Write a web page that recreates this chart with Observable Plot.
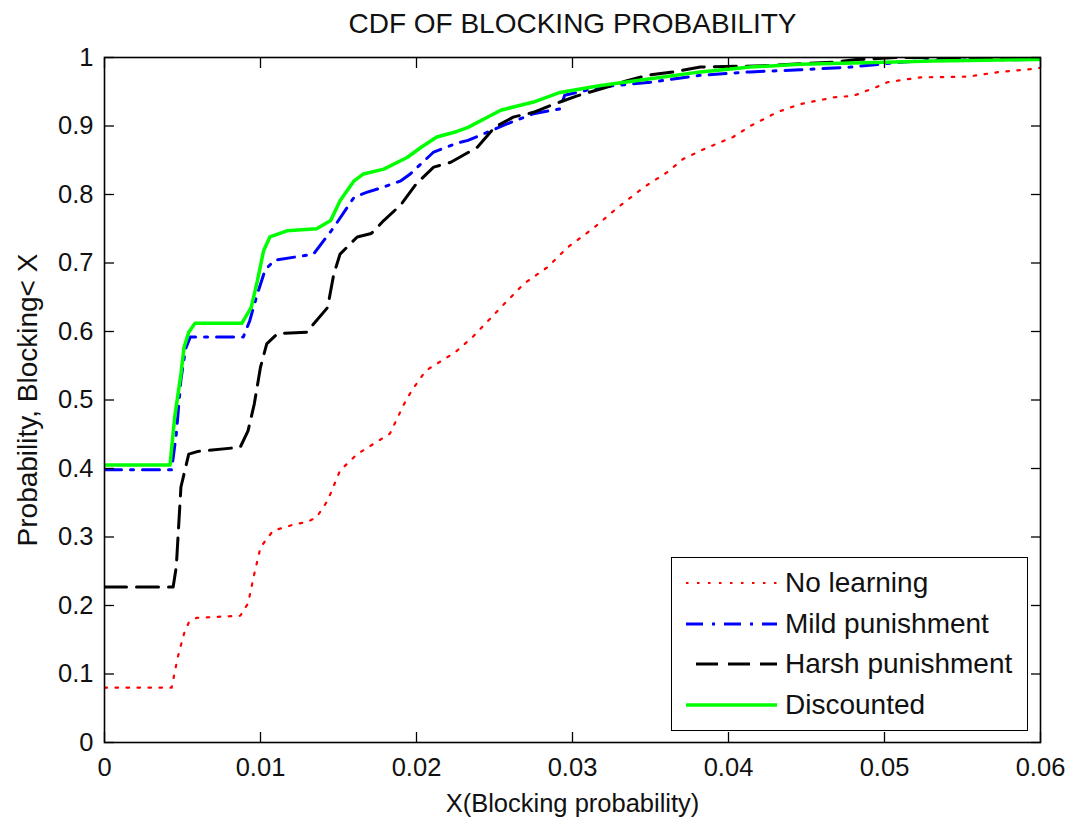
<!DOCTYPE html>
<html>
<head>
<meta charset="utf-8">
<script src="https://cdn.jsdelivr.net/npm/d3@7"></script>
<script src="https://cdn.jsdelivr.net/npm/@observablehq/plot@0.6"></script>
<style>
  html, body { margin: 0; padding: 0; background: #fff; }
  #wrap { position: relative; width: 1069px; height: 820px; font-family: "Liberation Sans", Arial, sans-serif; color: #111; }
  #legend {
    position: absolute; left: 671px; top: 557px; width: 355px; height: 172px;
    background: #fff; border: 1.5px solid #000;
  }
  .row { position: absolute; left: 0; height: 40px; display: flex; align-items: center; }
  .row svg { margin-left: 14px; }
  .row span { margin-left: 8px; font-size: 28px; line-height: 1; }
</style>
</head>
<body>
<div id="wrap"></div>
<script>
// CDF curves of blocking probability, [X, P(Blocking < X)]
const noLearning = [
  [0, 0.080], [0.0043, 0.080], [0.0047, 0.125], [0.0051, 0.159], [0.0054, 0.175], [0.0059, 0.182],
  [0.0087, 0.185], [0.0092, 0.203], [0.0096, 0.246], [0.0100, 0.285], [0.0108, 0.309], [0.0121, 0.318],
  [0.0130, 0.322], [0.0136, 0.329], [0.0143, 0.353], [0.0151, 0.397], [0.0162, 0.421], [0.0176, 0.441],
  [0.0183, 0.451], [0.0192, 0.494], [0.0197, 0.514], [0.0206, 0.543], [0.0218, 0.560], [0.0225, 0.570],
  [0.0236, 0.592], [0.0254, 0.635], [0.0269, 0.670], [0.0284, 0.694], [0.0297, 0.723], [0.0314, 0.752],
  [0.0329, 0.781], [0.0346, 0.811], [0.0361, 0.833], [0.0371, 0.852], [0.0386, 0.868], [0.0403, 0.884],
  [0.0414, 0.900], [0.0431, 0.920], [0.0446, 0.932], [0.0468, 0.942], [0.0480, 0.944], [0.0495, 0.957],
  [0.0502, 0.964], [0.0523, 0.971], [0.0553, 0.972], [0.0574, 0.979], [0.0594, 0.983], [0.0600, 0.985]
];
const mildPunishment = [
  [0, 0.398], [0.0043, 0.398], [0.0046, 0.450], [0.0049, 0.530], [0.0052, 0.575], [0.0055, 0.592],
  [0.0089, 0.592], [0.0093, 0.615], [0.0098, 0.655], [0.0103, 0.690], [0.0109, 0.704], [0.0134, 0.713],
  [0.0147, 0.752], [0.0160, 0.796], [0.0168, 0.803], [0.0179, 0.811], [0.0190, 0.820], [0.0196, 0.830],
  [0.0211, 0.862], [0.0226, 0.875], [0.0233, 0.879], [0.0258, 0.903], [0.0275, 0.918], [0.0292, 0.925],
  [0.0295, 0.945], [0.0318, 0.957], [0.0350, 0.964], [0.0382, 0.974], [0.0414, 0.979], [0.0446, 0.982],
  [0.0478, 0.986], [0.0510, 0.993], [0.0531, 0.996], [0.0600, 0.997]
];
const harshPunishment = [
  [0, 0.227], [0.0044, 0.227], [0.0046, 0.256], [0.0049, 0.373], [0.0054, 0.421], [0.0060, 0.425],
  [0.0087, 0.431], [0.0092, 0.455], [0.0096, 0.494], [0.0100, 0.548], [0.0104, 0.582], [0.0111, 0.597],
  [0.0130, 0.599], [0.0134, 0.611], [0.0143, 0.635], [0.0147, 0.684], [0.0151, 0.713], [0.0162, 0.738],
  [0.0171, 0.743], [0.0179, 0.762], [0.0190, 0.785], [0.0200, 0.816], [0.0211, 0.840], [0.0222, 0.847],
  [0.0239, 0.869], [0.0250, 0.898], [0.0262, 0.913], [0.0275, 0.920], [0.0286, 0.930], [0.0292, 0.935],
  [0.0303, 0.944], [0.0318, 0.954], [0.0335, 0.966], [0.0348, 0.974], [0.0365, 0.979], [0.0382, 0.986],
  [0.0425, 0.988], [0.0446, 0.991], [0.0467, 0.993], [0.0482, 0.997], [0.0507, 1.000], [0.0600, 1.000]
];
const discounted = [
  [0, 0.405], [0.0042, 0.405], [0.0045, 0.475], [0.0049, 0.538], [0.0051, 0.577], [0.0054, 0.599],
  [0.0058, 0.612], [0.0088, 0.612], [0.0094, 0.635], [0.0098, 0.674], [0.0102, 0.718], [0.0106, 0.738],
  [0.0117, 0.747], [0.0136, 0.750], [0.0145, 0.762], [0.0151, 0.791], [0.0160, 0.820], [0.0166, 0.830],
  [0.0179, 0.837], [0.0194, 0.854], [0.0203, 0.869], [0.0213, 0.884], [0.0226, 0.892], [0.0233, 0.898],
  [0.0254, 0.923], [0.0275, 0.935], [0.0292, 0.949], [0.0318, 0.959], [0.0350, 0.969], [0.0382, 0.979],
  [0.0414, 0.986], [0.0446, 0.990], [0.0500, 0.993], [0.0531, 0.995], [0.0600, 0.997]
];

const seriesNames = ["No learning", "Mild punishment", "Harsh punishment", "Discounted"];
const seriesData = [noLearning, mildPunishment, harshPunishment, discounted];
const seriesColors = ["#ff0000", "#0000ff", "#000000", "#00ff00"];
const seriesDash = ["2.5,8.5", "17,9,3,9", "22,10", null];
const seriesWidth = [2.2, 3, 3, 3.5];

const xTicks = [0, 0.01, 0.02, 0.03, 0.04, 0.05, 0.06];
const yTicks = [0, 0.1, 0.2, 0.3, 0.4, 0.5, 0.6, 0.7, 0.8, 0.9, 1];
const titleText = "CDF OF BLOCKING PROBABILITY";
const xLabel = "X(Blocking probability)";
const yLabel = "Probability, Blocking< X";

const lineMarks = seriesData.map((pts, i) =>
  Plot.line(pts, {
    x: d => d[0], y: d => d[1],
    stroke: seriesColors[i], strokeWidth: seriesWidth[i],
    strokeDasharray: seriesDash[i], clip: true
  })
);

const textStyle = { fill: "#111", fontFamily: "Liberation Sans, Arial, sans-serif" };

const chart = Plot.plot({
  width: 1069,
  height: 820,
  marginTop: 57,
  marginRight: 29,
  marginBottom: 78,
  marginLeft: 104,
  x: { domain: [0, 0.06] },
  y: { domain: [0, 1] },
  style: { background: "#fff", overflow: "visible" },
  marks: [
    ...lineMarks,
    // inward ticks on all four sides
    Plot.axisX({ anchor: "bottom", ticks: xTicks, tickSize: -10, text: null, stroke: "#000", strokeWidth: 1.3 }),
    Plot.axisX({ anchor: "top", ticks: xTicks, tickSize: -10, text: null, stroke: "#000", strokeWidth: 1.3 }),
    Plot.axisY({ anchor: "left", ticks: yTicks, tickSize: -10, text: null, stroke: "#000", strokeWidth: 1.3 }),
    Plot.axisY({ anchor: "right", ticks: yTicks, tickSize: -10, text: null, stroke: "#000", strokeWidth: 1.3 }),
    Plot.frame({ stroke: "#000", strokeWidth: 1.6 }),
    // tick labels
    Plot.text(xTicks, { x: d => d, frameAnchor: "bottom", dy: 25, lineAnchor: "middle", text: d => String(d), fontSize: 25.5, ...textStyle }),
    Plot.text(yTicks, { y: d => d, frameAnchor: "left", dx: -11, textAnchor: "end", lineAnchor: "middle", text: d => String(d), fontSize: 25.5, ...textStyle }),
    // titles
    Plot.text([titleText], { frameAnchor: "top", dy: -33, lineAnchor: "middle", fontSize: 28, ...textStyle }),
    Plot.text([xLabel], { frameAnchor: "bottom", dy: 61, lineAnchor: "middle", fontSize: 25.5, ...textStyle }),
    Plot.text([yLabel], { frameAnchor: "left", dx: -76, rotate: -90, textAnchor: "middle", lineAnchor: "middle", fontSize: 28, ...textStyle })
  ]
});

const wrap = document.getElementById("wrap");
wrap.appendChild(chart);

// legend box inside the lower-right corner of the axes
const legend = document.createElement("div");
legend.id = "legend";
seriesNames.forEach((name, i) => {
  const row = document.createElement("div");
  row.className = "row";
  row.style.top = (5 + i * 40.5) + "px";
  const dashOffset = i === 2 ? -10 : 0;
  row.innerHTML =
    `<svg width="91" height="10"><line x1="0" y1="5" x2="91" y2="5" stroke="${seriesColors[i]}" stroke-width="${seriesWidth[i]}"` +
    (seriesDash[i] ? ` stroke-dasharray="${seriesDash[i]}" stroke-dashoffset="${dashOffset}"` : "") +
    `/></svg><span>${name}</span>`;
  legend.appendChild(row);
});
wrap.appendChild(legend);
</script>
</body>
</html>
